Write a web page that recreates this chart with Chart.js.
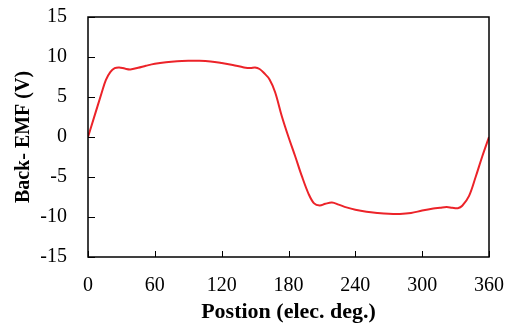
<!DOCTYPE html>
<html>
<head>
<meta charset="utf-8">
<script src="https://cdn.jsdelivr.net/npm/chart.js@4/dist/chart.umd.min.js"></script>
<style>
html,body{margin:0;padding:0;background:#fff;}
#wrap{width:516px;height:329px;}
</style>
</head>
<body>
<div id="wrap"><canvas id="c" width="516" height="329"></canvas></div>
<script>
const positionDeg = [0,6,12,16,20,24,28,33,38,45,52,60,70,80,90,100,110,120,130,140,146,150,154,158,163,168,174,180,186,192,198,203,208,213,219,225,232,240,250,260,270,280,290,300,310,316,322,327,332,336,342,348,354,360];
const backEmf =     [0,2.7,5.4,7.1,8.1,8.6,8.7,8.55,8.45,8.65,8.9,9.15,9.35,9.47,9.52,9.53,9.45,9.25,9.0,8.7,8.62,8.7,8.5,8.0,7.2,5.6,2.6,0.0,-2.4,-4.9,-7.1,-8.3,-8.55,-8.35,-8.2,-8.45,-8.8,-9.1,-9.35,-9.5,-9.6,-9.62,-9.5,-9.2,-8.95,-8.85,-8.75,-8.85,-8.9,-8.6,-7.4,-5.0,-2.4,0];
const xTicks = [0,60,120,180,240,300,360];
const yTicks = [-15,-10,-5,0,5,10,15];

const points = positionDeg.map((x,i)=>({x:x,y:backEmf[i]}));
const serif = "'Liberation Serif','Times New Roman',serif";

const framePlugin = {
  id:'frame',
  afterDatasetsDraw(chart){
    const {ctx, chartArea:a, scales} = chart;
    ctx.save();
    ctx.strokeStyle = '#000';
    ctx.lineWidth = 1.5;
    ctx.strokeRect(a.left, a.top, a.right-a.left, a.bottom-a.top);
    ctx.lineWidth = 1;
    ctx.beginPath();
    xTicks.forEach(v=>{
      const px = Math.round(scales.x.getPixelForValue(v))+0.5;
      ctx.moveTo(px, a.bottom); ctx.lineTo(px, a.bottom-6);
    });
    yTicks.forEach(v=>{
      const py = Math.round(scales.y.getPixelForValue(v))+0.5;
      ctx.moveTo(a.left, py); ctx.lineTo(a.left+7, py);
    });
    ctx.stroke();
    ctx.restore();
  }
};

function zeroPad(s){ s.paddingTop=0; s.paddingBottom=0; s.paddingLeft=0; s.paddingRight=0; }

new Chart(document.getElementById('c'), {
  type:'line',
  data:{datasets:[{data:points, borderColor:'#ec2329', borderWidth:2, pointRadius:0, tension:0.35, fill:false}]},
  options:{
    responsive:false, animation:false,
    layout:{padding:{left:0,right:27,top:17,bottom:0}},
    plugins:{legend:{display:false}, tooltip:{enabled:false}},
    scales:{
      x:{type:'linear', min:0, max:360,
        afterBuildTicks(s){ s.ticks = xTicks.map(v=>({value:v})); },
        afterFit(s){ s.height = 72; zeroPad(s); },
        grid:{display:false, drawTicks:false}, border:{display:false},
        ticks:{padding:17, color:'#000', font:{family:serif, size:20}},
        title:{display:true, text:'Postion (elec. deg.)', color:'#000', font:{family:serif, size:22, weight:'bold'}, padding:{top:0,bottom:3}}
      },
      y:{type:'linear', min:-15, max:15,
        afterBuildTicks(s){ s.ticks = yTicks.map(v=>({value:v})); },
        afterFit(s){ s.width = 88; zeroPad(s); },
        grid:{display:false, drawTicks:false}, border:{display:false},
        ticks:{padding:21, color:'#000', font:{family:serif, size:20}},
        title:{display:true, text:'Back- EMF (V)', color:'#000', font:{family:serif, size:20, weight:'bold'}, padding:{top:12,bottom:0}}
      }
    }
  },
  plugins:[framePlugin]
});
</script>
</body>
</html>
